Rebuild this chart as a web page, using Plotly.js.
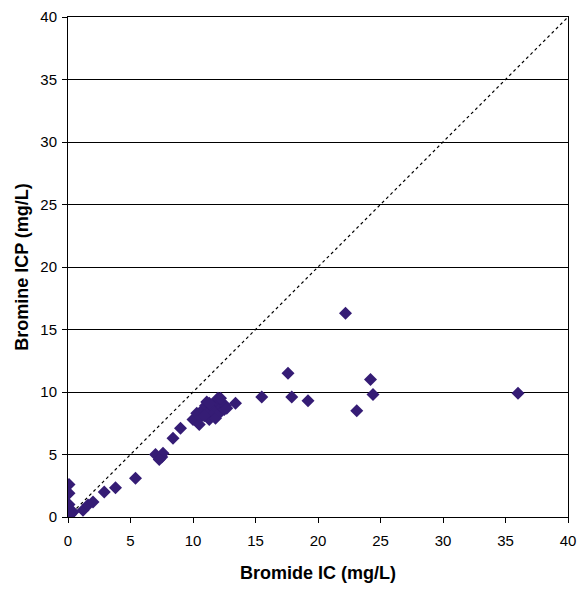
<!DOCTYPE html>
<html><head><meta charset="utf-8">
<script src="https://cdn.plot.ly/plotly-3.0.1.min.js"></script>
<style>body{margin:0;background:#fff}#chart{width:579px;height:590px}</style>
</head><body><div id="chart"></div>
<script>
const bromideIC = [0.08,0.08,0.08,0.08,0.05,0.4,0.2,1.2,1.6,2.0,2.9,3.8,5.4,7.0,7.5,7.6,7.3,8.4,9.0,
  10.0,10.3,10.5,10.6,10.8,11.0,11.1,11.2,11.3,11.4,11.5,11.6,11.7,11.8,11.9,12.0,12.1,12.2,12.3,12.4,12.5,12.6,12.0,11.3,10.9,12.7,13.4,12.2,
  15.5,17.6,17.9,19.2,22.2,23.1,24.2,24.4,36.0];
const bromineICP = [2.6,1.9,1.0,0.24,0.05,0.4,0.2,0.55,0.96,1.2,2.0,2.35,3.1,5.0,4.8,5.1,4.6,6.3,7.1,
  7.8,8.3,7.4,8.0,8.6,8.9,9.2,8.2,7.8,8.5,9.0,8.8,8.3,7.9,9.3,8.6,9.1,8.4,8.8,9.0,8.6,8.9,9.5,9.1,8.1,8.7,9.1,9.5,
  9.6,11.5,9.6,9.3,16.3,8.5,11.0,9.8,9.9];
const oneToOne = [0, 40];
const tickVals = [0,5,10,15,20,25,30,35,40];

const font = 'Liberation Sans, Arial, sans-serif';
Plotly.newPlot('chart', [
  {x: oneToOne, y: oneToOne, mode: 'lines', line: {color: '#000', width: 1.2, dash: 'dot'}, hoverinfo: 'skip'},
  {x: bromideIC, y: bromineICP, mode: 'markers', marker: {symbol: 'diamond', size: 10, color: '#351c75'}}
], {
  width: 579, height: 590, showlegend: false,
  paper_bgcolor: '#fff', plot_bgcolor: '#fff',
  margin: {l: 68, r: 11, t: 17, b: 73},
  font: {family: font, size: 15, color: '#000'},
  xaxis: {range: [0, 40], tickvals: tickVals, showgrid: false, zeroline: false,
    showline: true, linecolor: '#000', linewidth: 1, mirror: true,
    ticks: 'outside', ticklen: 5, tickcolor: '#000', ticklabelstandoff: 5,
    title: {text: '<b>Bromide IC (mg/L)</b>', font: {size: 18}, standoff: 18}},
  yaxis: {range: [0, 40], tickvals: tickVals, showgrid: true, gridcolor: '#000', gridwidth: 1, zeroline: false,
    showline: true, linecolor: '#000', linewidth: 1, mirror: true,
    ticks: 'outside', ticklen: 5, tickcolor: '#000', ticklabelstandoff: 2,
    title: {text: '<b>Bromine ICP (mg/L)</b>', font: {size: 18}, standoff: 7}}
}, {displayModeBar: false, staticPlot: true});
</script></body></html>
